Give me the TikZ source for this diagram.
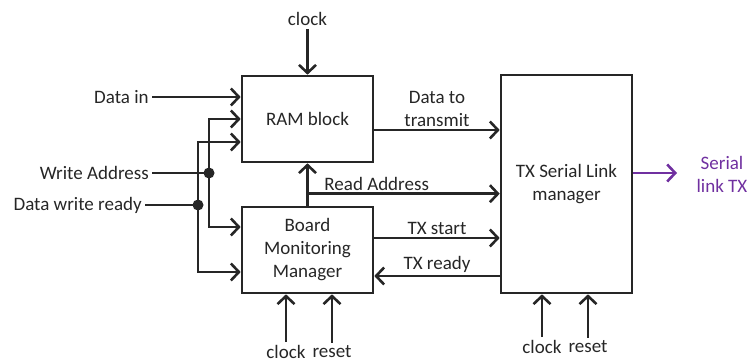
\documentclass[tikz,border=0pt]{standalone}
\usepackage{fontspec}
\setmainfont{Carlito}
\usetikzlibrary{positioning,arrows.meta,calc}
\definecolor{linkpurple}{RGB}{112,48,160}
\definecolor{wire}{RGB}{38,38,38}

\begin{document}
\begin{tikzpicture}[x=1pt,y=-1pt,>={Straight Barb[length=8pt,width=17pt]},
  line width=2.6pt,draw=wire,text=wire,
  font=\fontsize{19}{23}\selectfont,
  blk/.style={draw,line width=2.6pt,minimum width=131pt,minimum height=86pt,inner sep=0pt,align=center},
  lbl/.style={inner sep=2pt,align=center}]
  \useasboundingbox (0,0) rectangle (748,363);
  % blocks
  \node[blk] (ram) at (307.5,119) {RAM block};
  \node[blk] (bmm) at (307.5,250) {Board\\Monitoring\\Manager};
  \node[blk,minimum height=218pt] (tx) at (566.5,184) {TX Serial Link\\manager};
  % inputs on the left
  \node[lbl,anchor=east] (din) at (152,97) {Data in};
  \node[lbl,anchor=east] (wadr) at (152,173) {Write Address};
  \node[lbl,anchor=east] (dwr) at (145,205) {Data write ready};
  \coordinate (jwa) at (209,173);
  \coordinate (jdwr) at (198,205);
  \draw[->] (din.east) -- (din.east -| ram.west);
  \draw (wadr.east) -- (jwa);
  \draw (dwr.east) -- (jdwr);
  \draw[<->] (ram.west) -| (jwa) |- ($(bmm.west)+(0,-23)$);
  \draw[<->] ($(ram.west)+(0,23)$) -| (jdwr) |- ($(bmm.west)+(0,22)$);
  \fill[wire] (jwa) circle[radius=5.5pt];
  \fill[wire] (jdwr) circle[radius=5.5pt];
  % clock of the RAM
  \node[lbl] (clkram) at (307.5,19) {clock};
  \draw[->] (clkram.south) -- (ram.north);
  % links to the TX manager
  \coordinate (dtx) at ($(ram.east)+(0,11)$);
  \coordinate (rda) at ($(bmm.north)+(0,-12)$);
  \coordinate (txs) at ($(bmm.east)+(0,-12)$);
  \coordinate (txr) at ($(bmm.east)+(0,26)$);
  \draw[->] (dtx) -- (dtx -| tx.west) node[lbl,midway,above] (dtxl) {Data to\\transmit};
  \draw[->] (bmm.north) -- (ram.south);
  \draw[->] (rda) -- (rda -| tx.west) node[lbl,pos=0.36,above] (rdal) {Read Address};
  \draw[->] (txs) -- (txs -| tx.west) node[lbl,midway,above] (txsl) {TX start};
  \draw[<-] (txr) -- (txr -| tx.west) node[lbl,midway,above] (txrl) {TX ready};
  % clock and reset
  \node[lbl] (clkbmm) at (286,352) {clock};
  \node[lbl] (rstbmm) at (332,352) {reset};
  \node[lbl] (clktx) at (542,347) {clock};
  \node[lbl] (rsttx) at (588,347) {reset};
  \draw[->] (clkbmm.north) -- (clkbmm.north |- bmm.south);
  \draw[->] (rstbmm.north) -- (rstbmm.north |- bmm.south);
  \draw[->] (clktx.north) -- (clktx.north |- tx.south);
  \draw[->] (rsttx.north) -- (rsttx.north |- tx.south);
  % serial output
  \coordinate (serout) at (677,173);
  \draw[->,draw=linkpurple] (tx.east |- serout) -- (serout);
  \node[lbl,text=linkpurple] (serl) at (722,174) {Serial\\link TX};
\end{tikzpicture}
\end{document}
